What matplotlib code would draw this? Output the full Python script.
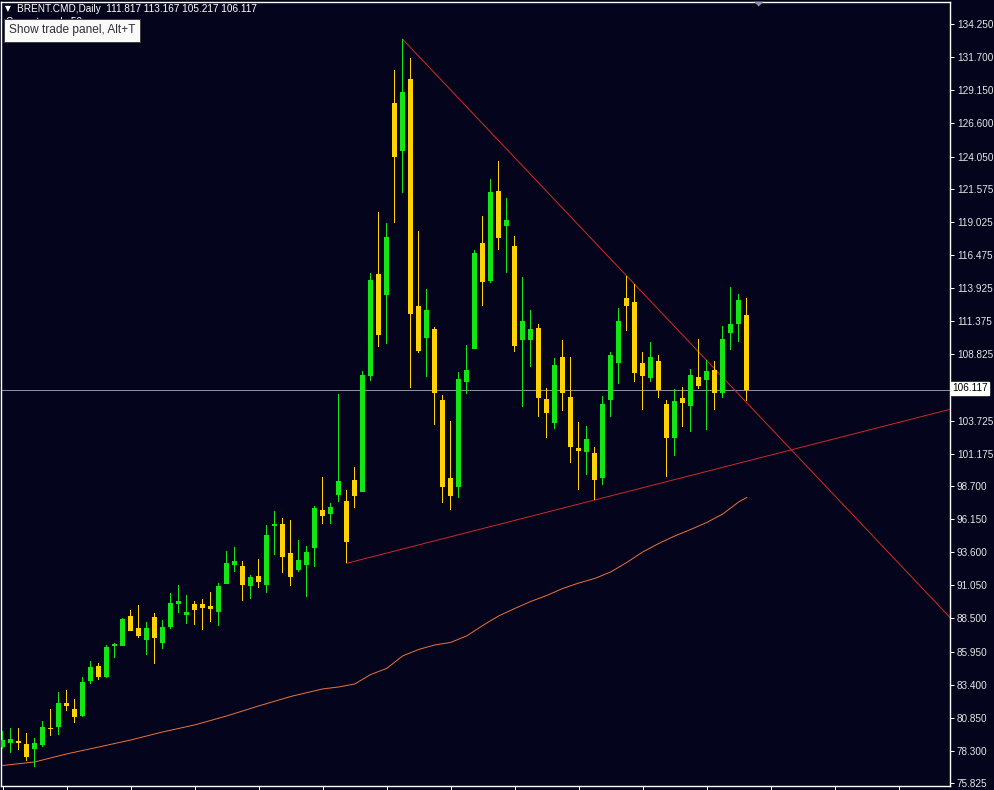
import numpy as np
import matplotlib
matplotlib.use("Agg")
import matplotlib.pyplot as plt
from matplotlib.patches import Polygon

# daily BRENT.CMD candles
opens = [78.59, 78.95, 79.10, 78.85, 78.48, 78.77, 80.08, 80.18, 82.00, 81.54,
         81.00, 83.72, 84.85, 84.02, 86.41, 86.41, 88.70, 87.77, 86.87, 88.62,
         86.62, 87.85, 89.64, 88.80, 89.62, 89.62, 89.46, 89.03, 91.18, 92.64,
         92.54, 91.03, 91.75, 91.11, 95.64, 95.77, 93.54, 92.24, 92.62, 93.95,
         96.85, 96.54, 98.01, 97.54, 99.16, 98.26, 107.19, 115.01, 113.40, 128.17,
         124.50, 130.02, 112.55, 110.11, 110.78, 105.32, 99.29, 98.65, 106.70, 109.24,
         117.42, 114.50, 121.40, 118.71, 117.17, 109.93, 109.93, 110.88, 105.39, 103.52,
         108.63, 105.57, 101.60, 101.29, 101.26, 99.29, 105.32, 108.19, 113.19, 112.86,
         108.16, 107.03, 108.29, 105.01, 102.42, 105.47, 104.88, 107.09, 106.86, 107.63,
         105.88, 110.50, 111.19, 111.817]
highs = [79.85, 80.05, 80.05, 79.67, 79.28, 80.62, 81.52, 82.82, 82.98, 82.29,
         83.98, 85.21, 85.06, 86.44, 86.59, 88.52, 89.16, 89.52, 88.23, 88.90,
         88.36, 90.47, 91.08, 90.29, 89.85, 89.98, 90.54, 91.21, 93.70, 94.00,
         92.93, 91.85, 93.06, 95.70, 96.78, 96.24, 96.08, 94.54, 94.08, 97.16,
         99.41, 97.39, 105.78, 98.39, 100.14, 107.57, 115.07, 119.78, 118.91, 130.71,
         133.07, 131.63, 118.32, 113.84, 110.96, 105.68, 103.72, 107.47, 109.55, 116.86,
         119.48, 122.32, 123.71, 120.86, 117.94, 114.80, 112.24, 111.16, 106.22, 108.53,
         109.93, 108.63, 103.60, 103.32, 101.68, 105.62, 109.01, 112.37, 114.86, 114.24,
         109.03, 109.78, 108.78, 105.32, 106.14, 106.34, 107.73, 110.01, 108.39, 108.34,
         111.01, 114.04, 113.50, 113.167]
lows = [78.44, 78.13, 78.38, 77.56, 77.05, 78.59, 79.48, 79.54, 81.41, 80.49,
        80.90, 83.49, 83.77, 83.95, 85.49, 86.41, 87.54, 87.03, 85.72, 85.03,
        86.18, 87.70, 88.95, 88.08, 88.00, 87.64, 88.23, 87.93, 91.18, 92.10,
        89.87, 90.00, 90.85, 90.49, 93.39, 92.03, 91.03, 92.10, 90.18, 92.49,
        95.77, 95.77, 97.49, 92.75, 96.98, 98.26, 106.80, 109.42, 109.60, 118.96,
        121.27, 106.26, 108.96, 107.11, 103.39, 97.41, 96.85, 97.75, 105.76, 109.24,
        112.55, 114.34, 116.86, 115.11, 109.01, 104.80, 107.88, 104.03, 102.37, 103.06,
        104.49, 100.49, 98.39, 99.55, 97.62, 98.78, 104.03, 106.55, 110.65, 106.72,
        104.55, 106.72, 105.49, 99.41, 101.03, 103.26, 102.88, 106.16, 103.01, 104.55,
        105.45, 109.16, 109.80, 105.217]
closes = [79.15, 79.23, 78.95, 77.87, 78.90, 80.13, 80.00, 82.00, 81.79, 80.95,
          83.62, 84.77, 84.02, 86.31, 86.54, 88.46, 87.56, 87.16, 87.77, 87.03,
          87.85, 89.67, 89.85, 89.00, 89.18, 89.33, 89.26, 91.00, 92.77, 92.93,
          91.08, 91.70, 91.31, 94.93, 95.77, 93.26, 91.72, 93.00, 93.62, 97.01,
          96.41, 97.08, 99.11, 94.41, 97.93, 107.24, 114.55, 110.32, 117.84, 124.04,
          129.02, 111.93, 109.09, 112.24, 105.88, 98.65, 97.95, 106.93, 107.63, 116.65,
          114.42, 121.32, 117.81, 119.17, 109.50, 111.40, 110.78, 105.49, 104.34, 108.01,
          105.88, 101.72, 101.42, 102.32, 99.16, 105.01, 108.80, 111.40, 112.57, 107.42,
          107.19, 108.63, 106.09, 102.42, 105.24, 105.11, 107.24, 106.39, 107.55, 105.83,
          110.01, 111.16, 113.01, 106.117]

# slow moving average, read at some bars
ma_idx = [0, 4, 8, 12, 16, 20, 24, 28, 32, 36, 40, 42, 44, 46, 48, 50, 52, 54, 56, 58,
          60, 62, 64, 66, 68, 70, 72, 74, 76, 78, 80, 82, 84, 86, 88, 90, 92, 93]
ma_vals = [77.19, 77.46, 78.08, 78.61, 79.15, 79.77, 80.31, 81.00, 81.77, 82.50,
           83.08, 83.23, 83.46, 84.19, 84.66, 85.62, 86.12, 86.46, 86.66, 87.16,
           87.96, 88.70, 89.27, 89.81, 90.27, 90.81, 91.23, 91.58, 92.08, 92.81,
           93.62, 94.27, 94.85, 95.35, 95.89, 96.54, 97.47, 97.81]

price_ticks = [134.250, 131.700, 129.150, 126.600, 124.050, 121.575, 119.025, 116.475,
               113.925, 111.375, 108.825, 103.725, 101.175, 98.700, 96.150, 93.600,
               91.050, 88.500, 85.950, 83.400, 80.850, 78.300, 75.825]

BG = '#04041c'
UP = '#14e614'
DOWN = '#ffd200'
W, H = 994, 790

plt.rcParams['font.family'] = ['Liberation Sans', 'DejaVu Sans']

fig = plt.figure(figsize=(W / 100, H / 100), dpi=100, facecolor=BG)
ax = fig.add_axes([1 / W, 4 / H, 949 / W, 784.5 / H], facecolor=BG)

o = np.array(opens); hi = np.array(highs); lo = np.array(lows); c = np.array(closes)
idx = np.arange(len(o))
cols = [UP if c[i] >= o[i] else DOWN for i in idx]

px = 72 / 100  # one pixel in points

# bid line
ax.axhline(c[-1], color='#8c909c', lw=px, zorder=1)

# moving average
ax.plot(ma_idx, ma_vals, color='#e8703a', lw=px, zorder=2)

# trendlines through the swing points
xr = np.array([50, 120])
k = (hi[78] - hi[50]) / (78 - 50)
ax.plot(xr, hi[50] + k * (xr - 50), color='#d42a1e', lw=px, zorder=2)
xs = np.array([43, 120])
k2 = (lo[74] - lo[43]) / (74 - 43)
ax.plot(xs, lo[43] + k2 * (xs - 43), color='#c8282a', lw=px, zorder=2)

# candles: wicks as one-pixel bars, then bodies
ax.bar(idx, hi - lo, bottom=lo, width=0.14, color=cols, linewidth=0,
       antialiased=False, zorder=3)
body = np.maximum(np.abs(c - o), 0.08)
ax.bar(idx, body, bottom=np.minimum(o, c), width=0.625, color=cols, linewidth=0,
       antialiased=False, zorder=4)

ax.set_xlim(-0.2125, 118.41)
ax.set_ylim(75.61, 135.98)

for s in ax.spines.values():
    s.set_color('white')
    s.set_linewidth(1.0)

ax.yaxis.tick_right()
ax.set_yticks(price_ticks)
ax.set_yticklabels(['%.3f' % v for v in price_ticks])
ax.tick_params(axis='y', colors='white', labelcolor='#e6e6e6', labelsize=7.2,
               length=3, width=px, pad=2, direction='out')
ax.set_xticks(np.arange(0, 119, 8))
ax.set_xticklabels([])
ax.tick_params(axis='x', colors='white', length=4, width=px, direction='out')

def fx(x):
    return x / W

def fy(y):
    return 1 - y / H

# current price label
fig.text(fx(952), fy(388.5), '%.3f' % c[-1], color='black', fontsize=7.2, va='center', ha='left',
         bbox=dict(boxstyle='square,pad=0.15', fc='white', ec='white'))

# header
fig.text(fx(5), fy(9), '\u25bc', color='white', fontsize=5.5, va='center', ha='left',
         family=['DejaVu Sans'])
fig.text(fx(17), fy(9), 'BRENT.CMD,Daily  %.3f %.3f %.3f %.3f' % (o[-1], hi[-1], lo[-1], c[-1]),
         color='white', fontsize=7.2, va='center', ha='left')
# second header line, mostly hidden behind the tooltip
fig.text(fx(6), fy(22), 'Current week: 50', color='white', fontsize=7.2, va='center', ha='left')

# tooltip box
fig.text(fx(9), fy(30.5), 'Show trade panel, Alt+T', color='#303030', fontsize=8.6,
         va='center', ha='left', zorder=10,
         bbox=dict(boxstyle='square,pad=0.42', fc='#fafafa', ec='#404040', lw=px))

# small scroll marker at the top
tri = Polygon([[fx(754), fy(1.7)], [fx(763.5), fy(1.7)], [fx(758.7), fy(6.5)]],
              closed=True, transform=fig.transFigure, fc='#8c94a8', ec='none')
fig.patches.append(tri)

fig.savefig('out.png', dpi=100, facecolor=BG)
